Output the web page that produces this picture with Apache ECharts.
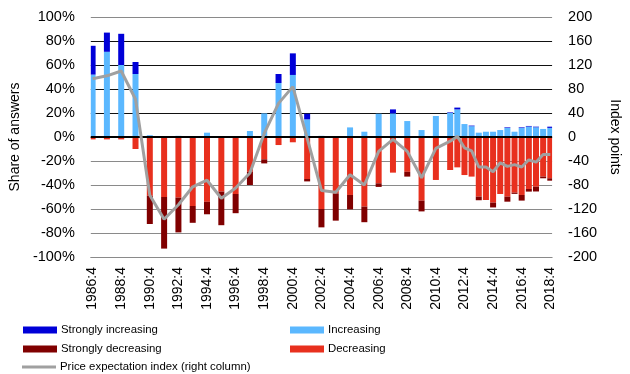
<!DOCTYPE html>
<html>
<head>
<meta charset="utf-8">
<script src="https://cdn.jsdelivr.net/npm/echarts@6/dist/echarts.min.js"></script>
<style>
html,body{margin:0;padding:0;background:#fff;}
#chart{width:630px;height:374px;}
</style>
</head>
<body>
<div id="chart"></div>
<script>
// Observation periods (annual until 2011:4, then half-yearly)
var periods = ['1986:4','1987:4','1988:4','1989:4','1990:4','1991:4','1992:4','1993:4','1994:4','1995:4',
  '1996:4','1997:4','1998:4','1999:4','2000:4','2001:4','2002:4','2003:4','2004:4','2005:4',
  '2006:4','2007:4','2008:4','2009:4','2010:4','2011:4',
  '2012:2','2012:4','2013:2','2013:4','2014:2','2014:4','2015:2','2015:4','2016:2','2016:4',
  '2017:2','2017:4','2018:2','2018:4'];

var strongInc = [24,16,26,10,0,0,0,0,0,0,
  0,0,0,7.5,18,4.7,0,0,0,0,
  0,3.3,0,0,0,0.5,
  1.5,0,0.5,0,0,0,0,0.5,0,0.5,
  0.5,0.5,0,1];
var inc = [52,71,60,52.5,1.5,0.5,1,0.5,3.6,0.5,
  0.3,5,19.7,45,51.7,14.7,1,0,8,4.4,
  19.4,19.7,13.3,5.8,17.5,20,
  23,10.8,9,3.6,4.4,4.4,5.8,7.5,4.4,7.5,
  8.7,8.1,6.7,7.6];
var dec = [-2,-2,-2,-10,-49,-50,-50.5,-57.5,-54,-45.5,
  -47.5,-29,-18.6,-6.7,-4.4,-35,-60,-47,-48.3,-58,
  -38.6,-29.7,-29,-53,-35.8,-27.5,
  -25.3,-31.7,-33,-49.7,-52.5,-54.7,-47.5,-49.7,-46.4,-48.3,
  -43.3,-41.4,-33,-34.4];
var strongDec = [0,0,0,0,-23.5,-43,-29,-14,-10.4,-28,
  -16,-11,-3.4,0,0,-2,-15.3,-22.7,-12,-13,
  -3,0,-4,-9,0,0,
  0,0,0,-3,0,-4,0,-4.2,-1,-4.7,
  -2.2,-4,-1.4,-2];
var priceIndex = [97,102,110,63,-97,-137,-113,-83,-72,-102,
  -85,-60,6,56,84,-2,-89,-92,-63,-80,
  -24,-4,-24,-68,-19,-7,
  1,-18,-23,-50,-50,-58,-43,-49,-46,-50,
  -38,-42,-29,-29];

var leftTicks = {min:-100, max:100, interval:20};
var rightTicks = {min:-200, max:200, interval:40};

// quarterly axis categories 1986:4 .. 2018:4
var cats = [];
for (var y = 1986; y <= 2018; y++) {
  for (var q = 1; q <= 4; q++) {
    if (y === 1986 && q < 4) continue;
    cats.push(y + ':' + q);
  }
}
function place(vals) {
  var out = cats.map(function(){ return '-'; });
  periods.forEach(function(p, i){ out[cats.indexOf(p)] = vals[i]; });
  return out;
}

var FONT = 'Liberation Sans, Arial, sans-serif';
var chart = echarts.init(document.getElementById('chart'), null, {renderer:'canvas'});
var gridColors = ['#8a8a8a','#8a8a8a','#8a8a8a','#8a8a8a','#8a8a8a','#000','#111','#111','#111','#111','#8a8a8a'];

function leg(name, left, cy, opts) {
  var o = {
    left: left, top: cy - 7, padding: 0, orient: 'horizontal',
    itemWidth: 34, itemHeight: 7, itemGap: 0, icon: 'rect',
    textStyle: {fontSize: 11.4, color: '#000', lineHeight: 14, fontFamily: FONT, padding: [0,0,0,-1]},
    data: [{name: name, icon: 'rect'}]
  };
  if (opts) { for (var k in opts) o[k] = opts[k]; }
  return o;
}

chart.setOption({
  animation: false,
  backgroundColor: '#fff',
  textStyle: {fontFamily: FONT},
  grid: {left: 83, right: 70, top: 17, bottom: 117},
  legend: [
    leg('Strongly increasing', 23, 330),
    leg('Increasing', 290, 330),
    leg('Strongly decreasing', 23, 349),
    leg('Decreasing', 290, 349),
    leg('Price expectation index (right column)', 22, 367, {
      itemHeight: 3, top: 360,
      data: [{name: 'Price expectation index (right column)', icon: 'rect', itemStyle: {color: '#a0a0a0'}}]
    })
  ],
  xAxis: {
    type: 'category',
    data: cats,
    boundaryGap: true,
    axisLine: {show: true, onZero: false, lineStyle: {color: '#8a8a8a', width: 1}},
    axisTick: {show: false},
    axisLabel: {interval: 7, rotate: 90, fontSize: 14, color: '#000', margin: 10, fontFamily: FONT},
    splitLine: {show: false}
  },
  yAxis: [{
    type: 'value',
    min: leftTicks.min, max: leftTicks.max, interval: leftTicks.interval,
    name: 'Share of answers', nameLocation: 'middle', nameGap: 47, nameRotate: 90,
    nameTextStyle: {fontSize: 14, color: '#000', fontFamily: FONT},
    axisLine: {show: false}, axisTick: {show: false},
    axisLabel: {formatter: function(v){ return v + '%'; }, fontSize: 14.5, color: '#000', margin: 16, fontFamily: FONT},
    splitLine: {show: true, lineStyle: {color: gridColors, width: 1}}
  }, {
    type: 'value',
    min: rightTicks.min, max: rightTicks.max, interval: rightTicks.interval,
    name: 'Index points', nameLocation: 'middle', nameGap: 51, nameRotate: -90,
    nameTextStyle: {fontSize: 14, color: '#000', fontFamily: FONT},
    axisLine: {show: false}, axisTick: {show: false},
    axisLabel: {fontSize: 14.5, color: '#000', margin: 16, fontFamily: FONT},
    splitLine: {show: false}
  }],
  series: [{
    name: 'Increasing', type: 'bar', stack: 'a', barWidth: 6,
    itemStyle: {color: '#5bb8ff'},
    data: place(inc),
    markLine: {
      silent: true, symbol: 'none', label: {show: false},
      lineStyle: {color: '#000', width: 2, type: 'solid'},
      data: [{yAxis: 0}]
    }
  }, {
    name: 'Strongly increasing', type: 'bar', stack: 'a', barWidth: 6,
    itemStyle: {color: '#0000d8'},
    data: place(strongInc)
  }, {
    name: 'Decreasing', type: 'bar', stack: 'a', barWidth: 6,
    itemStyle: {color: '#e8301e'},
    data: place(dec)
  }, {
    name: 'Strongly decreasing', type: 'bar', stack: 'a', barWidth: 6,
    itemStyle: {color: '#800000'},
    data: place(strongDec)
  }, {
    name: 'Price expectation index (right column)', type: 'line', yAxisIndex: 1,
    connectNulls: true, symbol: 'none', z: 10,
    lineStyle: {color: '#a0a0a0', width: 3},
    itemStyle: {color: '#a0a0a0'},
    data: place(priceIndex)
  }]
});
</script>
</body>
</html>
